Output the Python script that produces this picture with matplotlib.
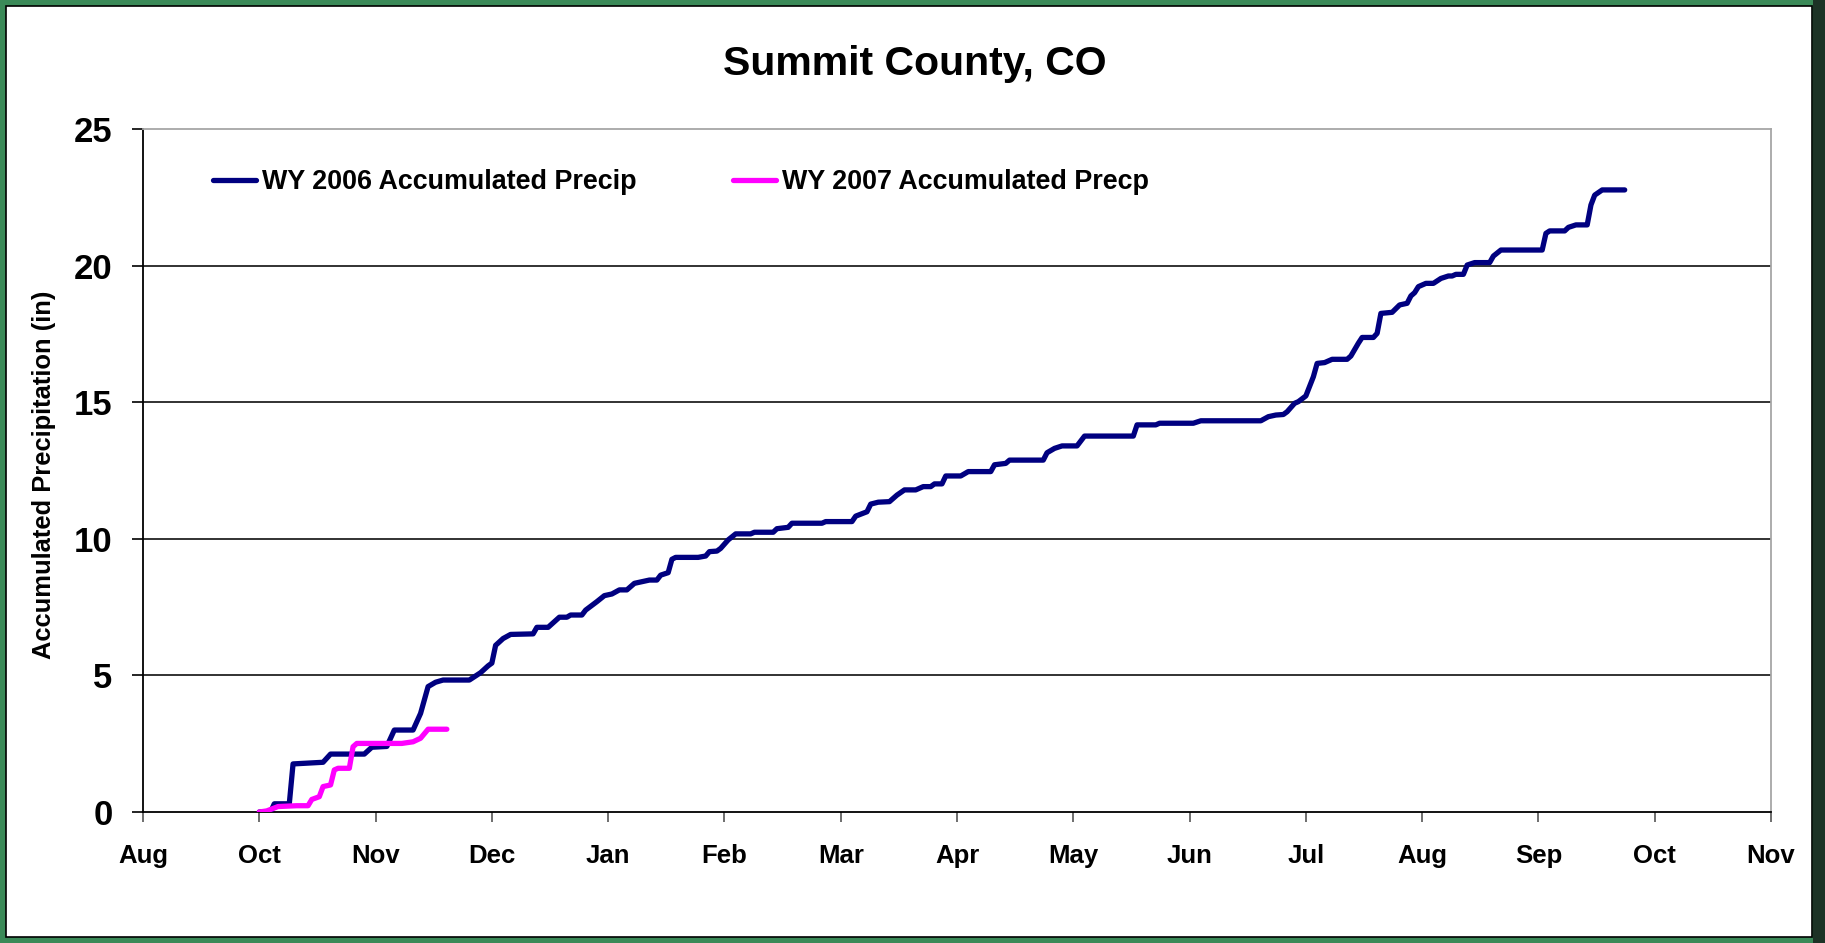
import matplotlib
matplotlib.use("Agg")
import matplotlib.pyplot as plt
import matplotlib.dates as mdates
from matplotlib.patches import Rectangle
import pandas as pd

# days since start of water year (Oct 1) and accumulated precip (in)
wy06_day = [0, 3, 4, 8, 9, 17, 19, 28, 30, 34, 36, 41, 43, 45, 47, 49, 56, 59, 61, 62,
            63, 65, 67, 73, 74, 77, 80, 82, 83, 86, 87, 90, 92, 94, 96, 98, 100, 102,
            104, 106, 107, 109, 110, 111, 117, 119, 120, 122, 123, 125, 127, 131, 132,
            137, 138, 141, 142, 150, 151, 158, 159, 162, 163, 165, 168, 170, 172, 175,
            177, 179, 180, 182, 183, 187, 189, 195, 196, 199, 200, 209, 210, 212, 214,
            218, 220, 233, 234, 239, 240, 249, 251, 267, 269, 271, 273, 274, 276, 277,
            279, 281, 282, 284, 286, 290, 291, 293, 294, 297, 298, 299, 302, 304, 306,
            307, 308, 309, 311, 313, 315, 317, 318, 319, 321, 322, 324, 328, 329, 331,
            342, 343, 344, 348, 349, 351, 354, 355, 356, 358, 364]
wy06_precip = [0.0, 0.0, 0.30, 0.30, 1.76, 1.82, 2.12, 2.12, 2.37, 2.40, 3.0, 3.0, 3.61,
               4.59, 4.75, 4.83, 4.83, 5.10, 5.35, 5.45, 6.10, 6.35, 6.50, 6.52, 6.76,
               6.76, 7.13, 7.13, 7.21, 7.21, 7.39, 7.70, 7.92, 7.98, 8.13, 8.13, 8.37,
               8.43, 8.49, 8.49, 8.67, 8.76, 9.25, 9.32, 9.32, 9.37, 9.53, 9.55, 9.65,
               9.96, 10.18, 10.18, 10.24, 10.24, 10.37, 10.42, 10.57, 10.57, 10.63, 10.63,
               10.83, 10.99, 11.27, 11.34, 11.36, 11.60, 11.79, 11.79, 11.91, 11.91,
               12.01, 12.01, 12.30, 12.30, 12.46, 12.46, 12.71, 12.76, 12.88, 12.88,
               13.15, 13.31, 13.40, 13.40, 13.76, 13.76, 14.17, 14.17, 14.23, 14.23,
               14.32, 14.32, 14.47, 14.53, 14.55, 14.65, 14.96, 15.02, 15.23, 15.93,
               16.42, 16.45, 16.57, 16.57, 16.69, 17.16, 17.37, 17.37, 17.52, 18.25,
               18.29, 18.56, 18.62, 18.89, 19.01, 19.23, 19.35, 19.35, 19.53, 19.62,
               19.62, 19.68, 19.68, 20.02, 20.11, 20.11, 20.35, 20.57, 20.57, 21.18,
               21.27, 21.27, 21.40, 21.49, 21.49, 22.22, 22.58, 22.77, 22.77]

wy07_day = [0, 2, 5, 10, 13, 14, 16, 17, 19, 20, 21, 24, 25, 26, 38, 41, 43, 45, 50]
wy07_precip = [0.0, 0.04, 0.20, 0.23, 0.23, 0.46, 0.56, 0.93, 0.99, 1.54, 1.60, 1.60,
               2.39, 2.51, 2.51, 2.57, 2.70, 3.03, 3.03]

y_ticks = [0, 5, 10, 15, 20, 25]

# both years drawn on the same season axis
wy_start = pd.Timestamp("2005-10-01")
x06 = wy_start + pd.to_timedelta(wy06_day, unit="D")
x07 = wy_start + pd.to_timedelta(wy07_day, unit="D")

# excel-style date axis: a tick every 31 days from Aug 31
axis_start = pd.Timestamp("2005-08-31")
x_ticks = [axis_start + pd.Timedelta(days=31 * i) for i in range(15)]

plt.rcParams['font.family'] = ['Liberation Sans', 'DejaVu Sans']
plt.rcParams['font.weight'] = 'bold'

fig = plt.figure(figsize=(18.25, 9.43), dpi=100)
fig.patch.set_facecolor('#3b8a58')

# white slide panel with black rim, dark strip at right
W, H = 1825, 943
fig.patches.append(Rectangle((1813 / W, 0), 12 / W, 1, transform=fig.transFigure,
                             facecolor='#1d3326', edgecolor='none', zorder=-3))
fig.patches.append(Rectangle((6 / W, 6 / H), 1806 / W, 931 / H, transform=fig.transFigure,
                             facecolor='white', edgecolor='black', linewidth=1.2, zorder=-2))

ax = fig.add_axes([143 / W, 1 - 812 / H, 1628 / W, 683 / H])
ax.set_facecolor('white')

ax.plot(x06, wy06_precip, color='#000080', lw=3.8, solid_joinstyle='round',
        solid_capstyle='round', label='WY 2006 Accumulated Precip', zorder=3)
ax.plot(x07, wy07_precip, color='#ff00ff', lw=3.8, solid_joinstyle='round',
        solid_capstyle='round', label='WY 2007 Accumulated Precp', zorder=4)

ax.set_xlim(x_ticks[0], x_ticks[-1])
ax.set_ylim(0, 25)
ax.set_xticks(x_ticks)
ax.xaxis.set_major_formatter(mdates.DateFormatter('%b'))
ax.set_yticks(y_ticks)

for v in y_ticks[1:-1]:
    ax.axhline(v, color='#222222', lw=1.3, zorder=1)

for side in ['top', 'right']:
    ax.spines[side].set_color('#a6a6a6')
    ax.spines[side].set_linewidth(1.3)
for side in ['left', 'bottom']:
    ax.spines[side].set_color('black')
    ax.spines[side].set_linewidth(1.3)

ax.tick_params(axis='x', length=7, width=1.2, color='#555555', pad=16,
               labelsize=18.5)
ax.tick_params(axis='y', length=8, width=1.2, color='black', pad=14,
               labelsize=25)
for lab in ax.get_xticklabels() + ax.get_yticklabels():
    lab.set_fontweight('bold')

fig.text(915 / W, 1 - 64 / H, 'Summit County, CO', ha='center', va='center',
         fontsize=29.5, fontweight='bold')
fig.text(44 / W, 1 - 475 / H, 'Accumulated Precipitation (in)', rotation=90,
         ha='center', va='center', fontsize=18.4, fontweight='bold')

leg = ax.legend(loc='center left', bbox_to_anchor=(70 / 1628, (812 - 182) / 683),
                ncol=2, frameon=False, borderpad=0, borderaxespad=0,
                handlelength=1.6, handletextpad=0.2, columnspacing=3.6,
                prop={'weight': 'bold', 'size': 19.4})

fig.savefig('out.png', dpi=100, facecolor=fig.get_facecolor())
